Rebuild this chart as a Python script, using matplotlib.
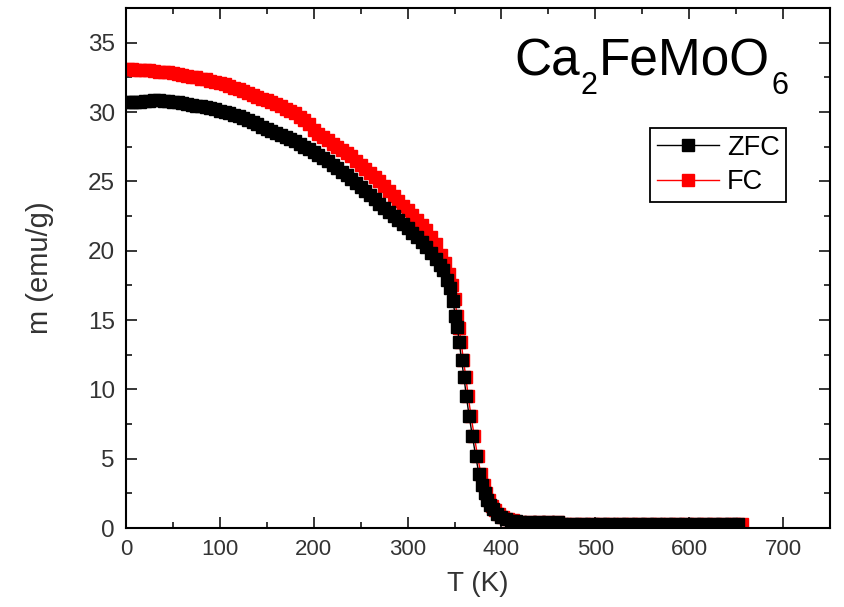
import matplotlib
matplotlib.use('Agg')
import matplotlib.pyplot as plt
from matplotlib.ticker import MultipleLocator

plt.rcParams['font.family'] = ['Liberation Sans', 'DejaVu Sans']

# ZFC data (T in K, m in emu/g)
t_zfc = [2, 6, 10, 15, 20, 25, 30, 35, 40, 45, 50, 55, 60, 65, 70, 75, 80, 85, 90, 95,
         100, 105, 110, 115, 120, 125, 130, 135, 140, 145, 150, 155, 160, 165, 170, 175,
         180, 185, 190, 195, 200, 205, 210, 215, 220, 225, 230, 235, 240, 245, 250, 255,
         260, 265, 270, 275, 280, 285, 290, 295, 300, 305, 310, 315, 320, 325, 330, 334,
         338, 342, 345, 348, 351, 353, 355, 357.5, 360, 362.5, 365.5, 369, 372.5, 376,
         379, 382, 385, 388, 391, 395, 400, 405, 410, 415, 420, 430, 440, 450, 460,
         465, 475, 485, 495, 505, 515, 525, 535, 545, 555, 565, 575, 585, 595, 605,
         615, 625, 635, 645, 652]
m_zfc = [30.7, 30.7, 30.75, 30.75, 30.8, 30.8, 30.85, 30.85, 30.8, 30.8, 30.75, 30.7,
         30.65, 30.6, 30.5, 30.45, 30.4, 30.35, 30.3, 30.2, 30.1, 30.0, 29.9, 29.8, 29.7,
         29.55, 29.4, 29.25, 29.1, 28.95, 28.8, 28.65, 28.5, 28.35, 28.2, 28.05, 27.9,
         27.7, 27.5, 27.3, 27.1, 26.9, 26.7, 26.45, 26.2, 25.95, 25.7, 25.45, 25.2, 24.9,
         24.6, 24.3, 24.0, 23.7, 23.4, 23.1, 22.8, 22.5, 22.2, 21.9, 21.6, 21.3, 21.0,
         20.65, 20.3, 19.85, 19.4, 19.0, 18.6, 17.9, 17.3, 16.4, 15.3, 14.5, 13.4, 12.1,
         10.9, 9.55, 8.1, 6.65, 5.2, 3.9, 3.1, 2.5, 2.0, 1.65, 1.35, 1.0, 0.78, 0.62,
         0.53, 0.48, 0.46, 0.45, 0.45, 0.45, 0.44, 0.27, 0.27, 0.27, 0.27, 0.27, 0.27,
         0.27, 0.27, 0.27, 0.27, 0.27, 0.27, 0.27, 0.27, 0.27, 0.27, 0.27, 0.27, 0.27,
         0.27]

# FC data
t_fc = [2, 6, 10, 15, 20, 25, 30, 35, 40, 45, 50, 55, 60, 65, 70, 75, 80, 85, 90, 95,
        100, 105, 110, 115, 120, 125, 130, 135, 140, 145, 150, 155, 160, 165, 170, 175,
        180, 185, 190, 195, 200, 205, 210, 215, 220, 225, 230, 235, 240, 245, 250, 255,
        260, 265, 270, 275, 280, 285, 290, 295, 300, 305, 310, 315, 320, 325, 330, 336,
        340, 344, 347, 350, 353, 355, 357, 359.5, 362, 364.5, 367.5, 371, 374.5, 378,
        381, 384, 387, 390, 393, 397, 402, 407, 412, 420, 430, 440, 450, 460,
        468, 478, 488, 498, 508, 518, 528, 538, 548, 558, 568, 578, 588, 598, 608,
        618, 628, 638, 648, 656]
m_fc = [33.1, 33.1, 33.05, 33.05, 33.0, 33.0, 32.95, 32.9, 32.9, 32.85, 32.8, 32.75,
        32.7, 32.6, 32.55, 32.5, 32.4, 32.35, 32.25, 32.2, 32.1, 32.0, 31.9, 31.75, 31.65,
        31.5, 31.4, 31.25, 31.1, 30.95, 30.85, 30.7, 30.55, 30.4, 30.25, 30.1, 29.9,
        29.65, 29.4, 29.1, 28.7, 28.45, 28.2, 27.95, 27.7, 27.5, 27.25, 27.05, 26.8,
        26.5, 26.2, 25.9, 25.6, 25.3, 25.0, 24.65, 24.3, 23.95, 23.6, 23.25, 22.9,
        22.55, 22.2, 21.85, 21.5, 21.0, 20.5, 19.7, 19.1, 18.3, 17.5, 16.5, 15.3, 14.4,
        13.4, 12.1, 10.9, 9.55, 8.1, 6.65, 5.2, 3.9, 3.1, 2.5, 2.0, 1.6, 1.3, 1.0, 0.8,
        0.65, 0.55, 0.47, 0.45, 0.45, 0.45, 0.45, 0.28, 0.28, 0.28, 0.28, 0.28, 0.28,
        0.28, 0.28, 0.28, 0.28, 0.28, 0.28, 0.28, 0.28, 0.28, 0.28, 0.28, 0.28, 0.28,
        0.28]

fig = plt.figure(figsize=(8.44, 6.07), dpi=100)
ax = fig.add_axes([0.1493, 0.1301, 0.8341, 0.8567])

ax.plot(t_fc, m_fc, color='red', lw=1, marker='s', ms=8.5, mec='red', mfc='red', label='FC')
ax.plot(t_zfc, m_zfc, color='black', lw=1, marker='s', ms=8.5, mec='black', mfc='black', label='ZFC')

ax.set_xlim(0, 750)
ax.set_ylim(0, 37.5)
ax.xaxis.set_major_locator(MultipleLocator(100))
ax.xaxis.set_minor_locator(MultipleLocator(50))
ax.yaxis.set_major_locator(MultipleLocator(5))
ax.yaxis.set_minor_locator(MultipleLocator(2.5))
ax.tick_params(which='both', direction='in', top=True, right=True, width=1.1, colors='black',
               labelcolor='#333333')
ax.tick_params(which='major', length=8)
ax.tick_params(which='minor', length=4.5)
ax.tick_params(axis='x', pad=8, labelsize=16)
ax.tick_params(axis='y', pad=8, labelsize=17.5)
for s in ax.spines.values():
    s.set_linewidth(1.5)

ax.set_xlabel('T (K)', fontsize=20, color='#333333', labelpad=8)
ax.set_ylabel('m (emu/g)', fontsize=21, color='#333333', labelpad=24)

# formula with lowered subscripts
ca = ax.text(0.551, 0.871, 'Ca', transform=ax.transAxes, fontsize=37, ha='left', va='baseline')
s2 = ax.annotate('2', xy=(1, 0), xycoords=ca, xytext=(1, -5.5), textcoords='offset points',
                 fontsize=22, ha='left', va='baseline')
fm = ax.annotate('FeMoO', xy=(1, 0), xycoords=(s2, ca), xytext=(1, 0), textcoords='offset points',
                 fontsize=37, ha='left', va='bottom')
ax.annotate('6', xy=(1, 0), xycoords=(fm, ca), xytext=(1, -5.5), textcoords='offset points',
            fontsize=22, ha='left', va='baseline')

h, l = ax.get_legend_handles_labels()
leg = ax.legend(h[::-1], l[::-1], loc='upper left', bbox_to_anchor=(0.744, 0.769),
                fontsize=19.5, numpoints=1, handlelength=2.3, handletextpad=0.3,
                labelspacing=0.3, borderpad=0.25, borderaxespad=0, fancybox=False,
                framealpha=1, edgecolor='black')
leg.get_frame().set_linewidth(1.3)
for lh in leg.legend_handles:
    lh.set_markersize(8.5)

fig.savefig('out.png', dpi=100)
